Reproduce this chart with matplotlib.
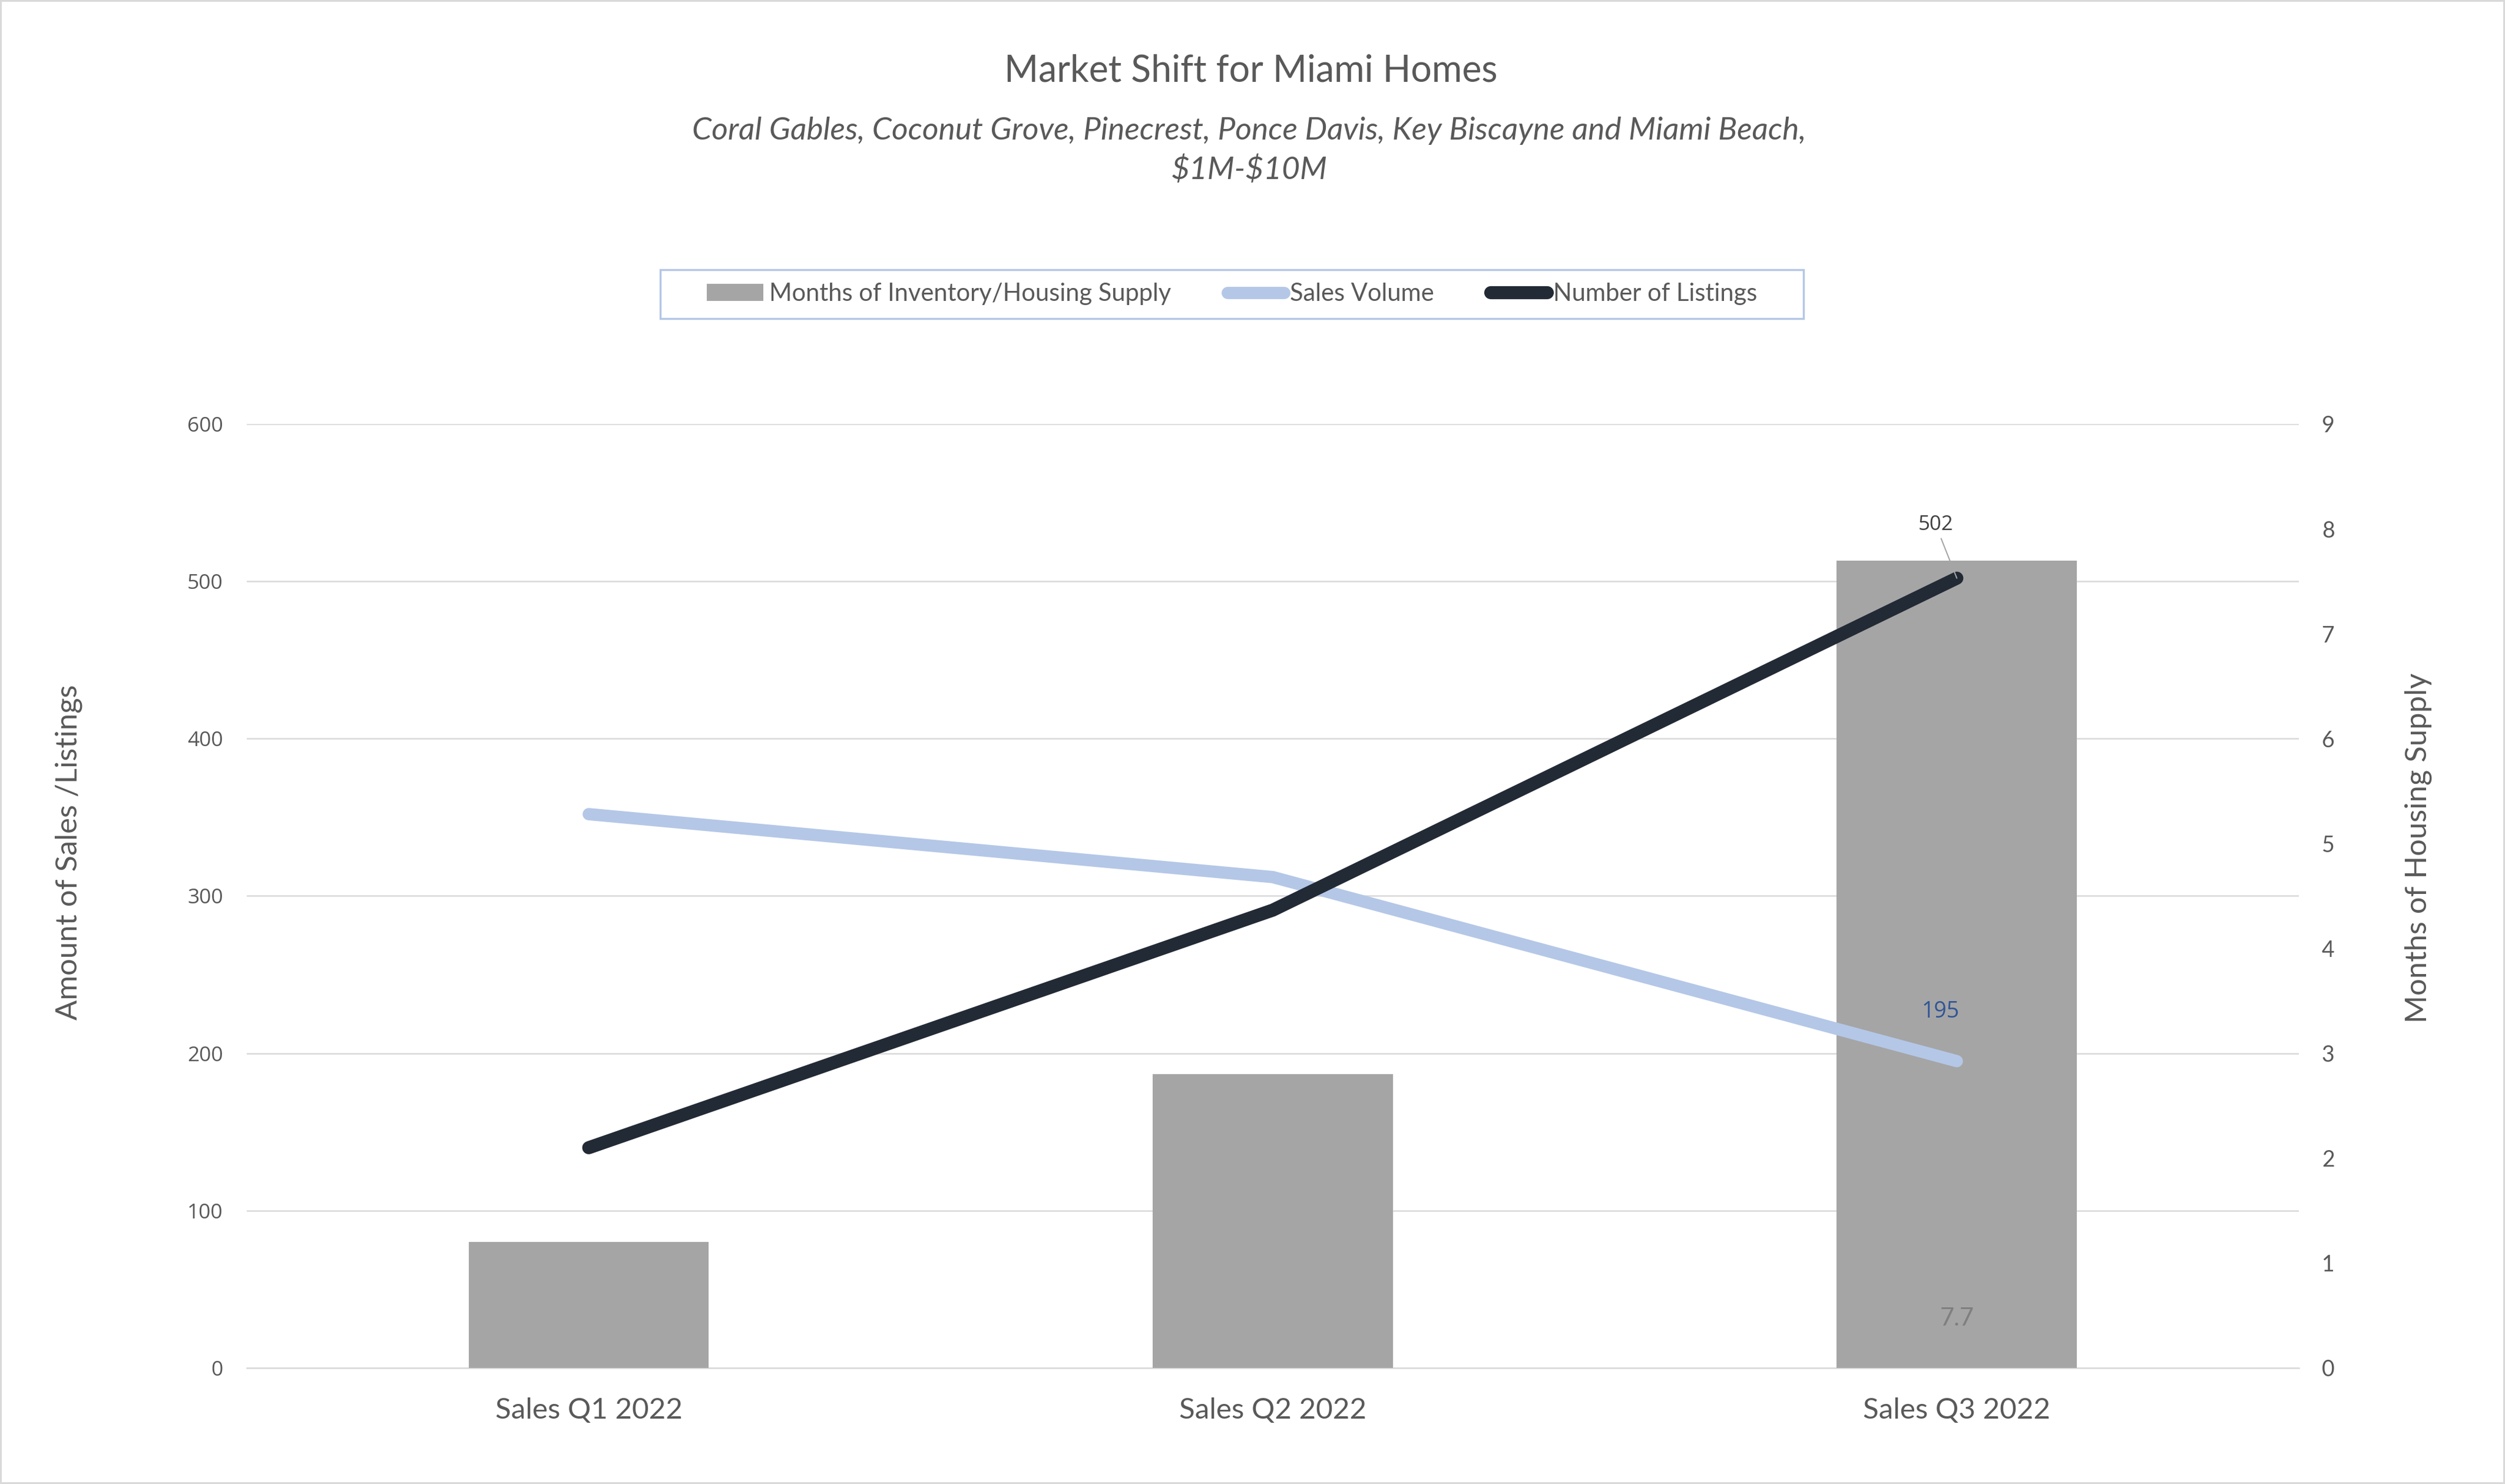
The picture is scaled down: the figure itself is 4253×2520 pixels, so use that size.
import matplotlib
matplotlib.use('Agg')
import matplotlib.pyplot as plt
from matplotlib.ticker import FixedLocator
from matplotlib.patches import Rectangle
import numpy as np

# ---------------- data ----------------
categories = ['Sales Q1 2022', 'Sales Q2 2022', 'Sales Q3 2022']
months_supply = [1.2, 2.8, 7.7]          # bars, right axis
sales_volume = [352, 312, 195]           # light blue line, left axis
listings = [140, 291, 502]               # dark line, left axis
left_ticks = [0, 100, 200, 300, 400, 500, 600]
right_ticks = [0, 1, 2, 3, 4, 5, 6, 7, 8, 9]
series_names = ['Months of Inventory/Housing Supply', 'Sales Volume', 'Number of Listings']

TEXT = '#595959'
BAR = '#a5a5a5'
SALES = '#b4c7e7'
LIST = '#222a35'
GRID = '#d9d9d9'

fig = plt.figure(figsize=(42.53, 25.20), dpi=100)
fig.patch.set_facecolor('white')
fig.patch.set_edgecolor(GRID)
fig.patch.set_linewidth(4)

axL = fig.add_axes([0.0985, 0.0782, 0.8192, 0.6361])
axR = axL.twinx()
axL.set_zorder(axR.get_zorder() + 1)
axL.patch.set_visible(False)

x = np.arange(len(categories))
bars = axR.bar(x, months_supply, width=0.351, color=BAR, zorder=2,
               label=series_names[0])
ln1, = axL.plot(x, sales_volume, color=SALES, lw=15, solid_capstyle='round',
                solid_joinstyle='round', label=series_names[1])
ln2, = axL.plot(x, listings, color=LIST, lw=16, solid_capstyle='round',
                solid_joinstyle='round', label=series_names[2])

axL.set_xlim(-0.5, len(categories) - 0.5)
axL.set_ylim(left_ticks[0], left_ticks[-1])
axR.set_ylim(right_ticks[0], right_ticks[-1])
axL.set_yticks(left_ticks)
axR.set_yticks(right_ticks)

# gridlines aligned with the left-axis ticks, drawn below the bars
scale = right_ticks[-1] / left_ticks[-1]
axR.yaxis.remove_overlapping_locs = False
axR.yaxis.set_minor_locator(FixedLocator([t * scale for t in left_ticks]))
axR.grid(which='minor', axis='y', color=GRID, lw=1.8)
axR.grid(which='major', visible=False)
axR.set_axisbelow(True)
axR.tick_params(which='minor', length=0)

for ax in (axL, axR):
    for s in ax.spines.values():
        s.set_visible(False)
# horizontal category axis line
axR.spines['bottom'].set_visible(True)
axR.spines['bottom'].set_color(GRID)
axR.spines['bottom'].set_linewidth(1.8)
axR.spines['bottom'].set_zorder(1)

axL.set_xticks(x, categories)
axL.tick_params(axis='x', length=0, pad=36, labelsize=35.5, labelcolor=TEXT,
                labelfontfamily='Lato')
axL.tick_params(axis='y', length=0, pad=29, labelsize=25.5, labelcolor=TEXT,
                labelfontfamily='Open Sans')
axR.tick_params(axis='y', which='major', length=0, pad=28, labelsize=27,
                labelcolor=TEXT, labelfontfamily='Lato')

axL.set_ylabel('Amount of Sales /Listings', fontsize=36.5, color=TEXT,
               family='Lato', va='center')
axL.yaxis.set_label_coords(-0.0867, 0.546)
axR.set_ylabel('Months of Housing Supply', fontsize=36.5, color=TEXT,
               family='Lato', va='center', rotation=90)
axR.yaxis.set_label_coords(1.0583, 0.551)

# data labels
axL.annotate(str(listings[2]), xy=(2, listings[2]), xytext=(-36, 91),
             textcoords='offset pixels', ha='center', va='center',
             fontsize=25, color='#404040', family='Open Sans',
             arrowprops=dict(arrowstyle='-', color='#a6a6a6', lw=1.5,
                             shrinkA=3, shrinkB=0))
axL.annotate(str(sales_volume[2]), xy=(2, sales_volume[2]), xytext=(-28, 84),
             textcoords='offset pixels', ha='center', va='center',
             fontsize=27, color='#2f5597', family='Open Sans')
axR.annotate(f'{months_supply[2]}', xy=(2, 0), xytext=(0, 84),
             textcoords='offset pixels', ha='center', va='center',
             fontsize=30, color='#7f7f7f', family='Lato', zorder=3)

# legend (frame drawn separately so it can have wider side padding)
leg = fig.legend([bars, ln1, ln2], series_names, loc='center',
                 bbox_to_anchor=(0.4918, 0.8018), ncol=3, frameon=False,
                 prop={'family': 'Lato', 'size': 30}, labelcolor=TEXT,
                 handlelength=2.3, handletextpad=0.25, columnspacing=2.3,
                 borderpad=0.55)

# titles
fig.text(0.4994, 0.9452, 'Market Shift for Miami Homes', ha='center',
         va='baseline', fontsize=45, color=TEXT, family='Lato')
fig.text(0.4987, 0.9060,
         'Coral Gables, Coconut Grove, Pinecrest, Ponce Davis, Key Biscayne and Miami Beach,',
         ha='center', va='baseline', fontsize=38.3, color=TEXT, family='Lato',
         style='italic', parse_math=False)
fig.text(0.4987, 0.8795, '$1M-$10M', ha='center', va='baseline', fontsize=38.3,
         color=TEXT, family='Lato', style='italic', parse_math=False)

fig.canvas.draw()
bb = leg.get_window_extent().transformed(fig.transFigure.inverted())
padx = 56 / fig.bbox.width
frame_h = 83 / fig.bbox.height
cy = (bb.y0 + bb.y1) / 2
fig.patches.append(Rectangle((bb.x0 - padx, cy - frame_h / 2), bb.width + 2 * padx,
                             frame_h, transform=fig.transFigure, fill=False,
                             edgecolor=SALES, linewidth=2.5, zorder=1))

fig.savefig('out.png', dpi=100, facecolor=fig.get_facecolor(),
            edgecolor=fig.get_edgecolor())
